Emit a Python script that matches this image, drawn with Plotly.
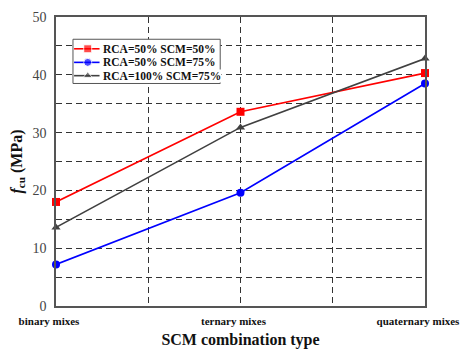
import plotly.graph_objects as go

categories = ["binary mixes", "ternary mixes", "quaternary mixes"]
series_names = ["RCA=50% SCM=50%", "RCA=50% SCM=75%", "RCA=100% SCM=75%"]
red_vals = [18.0, 33.6, 40.3]
blue_vals = [7.2, 19.6, 38.5]
gray_vals = [13.6, 30.9, 42.8]

xpos = list(range(len(categories)))
colors = ["#ff0000", "#0000ff", "#404040"]
symbols = ["square", "circle", "triangle-up"]

fig = go.Figure()

# custom compact legend drawn on an overlay axis spanning the plot area [0,1]x[0,1]
leg_x0, leg_x1, leg_y0, leg_y1 = 0.046, 0.445, 0.77, 0.923
row_y = [0.89, 0.843, 0.797]
fig.add_trace(go.Scatter(x=[leg_x0, leg_x1, leg_x1, leg_x0, leg_x0],
                         y=[leg_y0, leg_y0, leg_y1, leg_y1, leg_y0],
                         xaxis="x2", yaxis="y2", mode="lines", fill="toself",
                         fillcolor="white", line=dict(color="#555", width=1),
                         showlegend=False, hoverinfo="skip"))

for name, vals, c, s in zip(series_names, [red_vals, blue_vals, gray_vals], colors, symbols):
    fig.add_trace(go.Scatter(x=xpos, y=vals, name=name, mode="lines+markers",
                             line=dict(color=c, width=1.6),
                             marker=dict(symbol=s, size=8, color=c),
                             cliponaxis=False, showlegend=False))

for name, c, s, ry in zip(series_names, colors, symbols, row_y):
    fig.add_trace(go.Scatter(x=[0.049, 0.086, 0.118], y=[ry, ry, ry], xaxis="x2", yaxis="y2",
                             mode="lines+markers",
                             line=dict(color=c, width=1.6),
                             marker=dict(symbol=s, size=[0, 8, 0], color=c),
                             showlegend=False, hoverinfo="skip"))
    fig.add_annotation(x=0.124, y=ry, xref="x2", yref="y2", text="<b>" + name + "</b>",
                       showarrow=False, xanchor="left", yanchor="middle",
                       bgcolor="white", borderpad=0,
                       font=dict(family="Liberation Serif", size=11.5, color="#111"))

tickvals = [0, 0.5, 1, 1.5, 2]
ticktext = [categories[0], "", categories[1], "", categories[2]]

fig.update_layout(
    width=470, height=356,
    margin=dict(l=56, r=41, t=10, b=46),
    paper_bgcolor="white", plot_bgcolor="white",
    font=dict(family="Liberation Serif", color="#222"),
    showlegend=False,
    xaxis=dict(range=[0, 2], tickvals=tickvals, ticktext=ticktext,
               showgrid=True, gridcolor="#333", griddash="6px,4px", gridwidth=1,
               showline=True, linecolor="#555", linewidth=1.5, mirror=True,
               ticks="", zeroline=False, ticklabelshift=-7, ticklabelstandoff=4,
               tickfont=dict(family="Liberation Serif", size=11, color="#111", weight="bold"),
               title=dict(text="<b>SCM combination type</b>", standoff=8,
                          font=dict(family="Liberation Serif", size=16, color="#111"))),
    yaxis=dict(range=[0, 50], dtick=10,
               showgrid=True, gridcolor="#333", griddash="6px,4px", gridwidth=1,
               minor=dict(dtick=5, showgrid=True, gridcolor="#333", griddash="6px,4px", gridwidth=1, ticks=""),
               showline=True, linecolor="#555", linewidth=1.5, mirror=True,
               ticks="", zeroline=False, ticklabelstandoff=5,
               tickfont=dict(family="Liberation Serif", size=14, color="#444"),
               title=dict(text="<b><i>f</i><sub>cu</sub> (MPa)</b>", standoff=6,
                          font=dict(family="Liberation Serif", size=16, color="#111"))),
    xaxis2=dict(range=[0, 1], overlaying="x", visible=False, fixedrange=True),
    yaxis2=dict(range=[0, 1], overlaying="y", visible=False, fixedrange=True),
)

fig.write_html("out.html")
